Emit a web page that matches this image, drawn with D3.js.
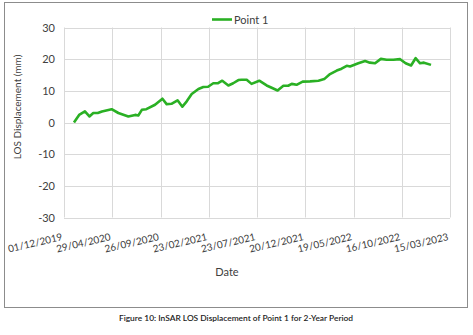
<!DOCTYPE html>
<html>
<head>
<meta charset="utf-8">
<script src="https://cdn.jsdelivr.net/npm/d3@7"></script>
<style>
  body { margin: 0; background: #fff; }
  svg { display: block; font-family: Lato, "DejaVu Sans", sans-serif; }
</style>
</head>
<body>
<svg id="chart" width="473" height="335"></svg>
<script>
// days since 01/12/2019
const days = [31, 47, 65, 79, 91, 105, 118, 148, 169, 200, 221, 231, 242, 256, 283, 306, 319, 334, 353, 368, 381, 397, 418, 433, 448, 464, 479, 492, 511, 526, 542, 552, 568, 583, 607, 630, 649, 664, 682, 697, 708, 723, 742, 765, 791, 809, 827, 848, 863, 879, 889, 915, 936, 951, 967, 985, 1003, 1024, 1045, 1062, 1079, 1093, 1107, 1119, 1141]
const los = [0, 2.4, 3.5, 1.9, 3, 3, 3.5, 4.2, 3, 1.9, 2.4, 2.2, 4, 4.2, 5.6, 7.5, 5.8, 5.9, 7, 5, 6.6, 9, 10.6, 11.2, 11.3, 12.4, 12.4, 13.2, 11.7, 12.4, 13.4, 13.5, 13.5, 12.2, 13.2, 11.7, 10.8, 10.1, 11.6, 11.6, 12.2, 11.9, 12.9, 13, 13.2, 13.7, 15.3, 16.4, 17, 17.9, 17.7, 18.7, 19.4, 18.9, 18.7, 20.1, 19.8, 19.8, 20, 18.7, 18, 20.3, 18.7, 18.9, 18.2]

const xTickDays = [0, 150, 300, 450, 600, 750, 900, 1050, 1200]
const xTickLabels = ['01/12/2019', '29/04/2020', '26/09/2020', '23/02/2021', '23/07/2021', '20/12/2021', '19/05/2022', '16/10/2022', '15/03/2023']
const yTicks = [-30, -20, -10, 0, 10, 20, 30]
const seriesName = 'Point 1'
const caption = 'Figure 10: InSAR LOS Displacement of Point 1 for 2-Year Period'

const svg = d3.select('#chart')
const green = '#2ab024'
const grid = '#d9d9d9'
const textCol = '#404040'

// chart border
svg.append('rect')
  .attr('x', 4.5).attr('y', 2.5)
  .attr('width', 463).attr('height', 305)
  .attr('fill', 'none').attr('stroke', '#8c8c8c')

const x = d3.scaleLinear().domain([0, 1200]).range([64, 450])
const y = d3.scaleLinear().domain([-30, 30]).range([217.5, 27.5])

// gridlines
svg.append('g').selectAll('line').data(yTicks).join('line')
  .attr('x1', 64).attr('x2', 450)
  .attr('y1', d => Math.round(y(d)) + 0.5).attr('y2', d => Math.round(y(d)) + 0.5)
  .attr('stroke', grid)
svg.append('g').selectAll('line').data(xTickDays).join('line')
  .attr('y1', y(30)).attr('y2', y(-30))
  .attr('x1', d => Math.round(x(d)) + 0.5).attr('x2', d => Math.round(x(d)) + 0.5)
  .attr('stroke', grid)

// y tick labels
svg.append('g').selectAll('text').data(yTicks).join('text')
  .attr('x', 55).attr('y', d => y(d) + 4)
  .attr('text-anchor', 'end')
  .attr('font-size', 11).attr('fill', textCol)
  .text(d => d)

// x tick labels (rotated)
svg.append('g').selectAll('text').data(xTickDays).join('text')
  .attr('transform', d => `translate(${x(d) - 1},240) rotate(-13)`)
  .attr('text-anchor', 'end')
  .attr('font-size', 10).attr('fill', textCol)
  .text((d, i) => xTickLabels[i])

// axis titles
svg.append('text')
  .attr('transform', 'translate(21,107) rotate(-90)')
  .attr('text-anchor', 'middle')
  .attr('font-size', 10).attr('fill', textCol)
  .text('LOS Displacement (mm)')
svg.append('text')
  .attr('x', 227).attr('y', 276)
  .attr('text-anchor', 'middle')
  .attr('font-size', 11).attr('fill', textCol)
  .text('Date')

// line
const line = d3.line().x(d => x(d[0])).y(d => y(d[1]))
svg.append('path')
  .datum(days.map((d, i) => [d, los[i]]))
  .attr('d', line)
  .attr('fill', 'none')
  .attr('stroke', green)
  .attr('stroke-width', 2.6)
  .attr('stroke-linejoin', 'round')

// legend
svg.append('line')
  .attr('x1', 212).attr('x2', 232).attr('y1', 19.5).attr('y2', 19.5)
  .attr('stroke', green).attr('stroke-width', 2.6)
svg.append('text')
  .attr('x', 234).attr('y', 23.5)
  .attr('font-size', 11).attr('fill', textCol)
  .text(seriesName)

// caption
svg.append('text')
  .attr('x', 236).attr('y', 321)
  .attr('text-anchor', 'middle')
  .attr('font-size', 8.4).attr('font-weight', 600).attr('fill', '#222')
  .text(caption)
</script>
</body>
</html>
